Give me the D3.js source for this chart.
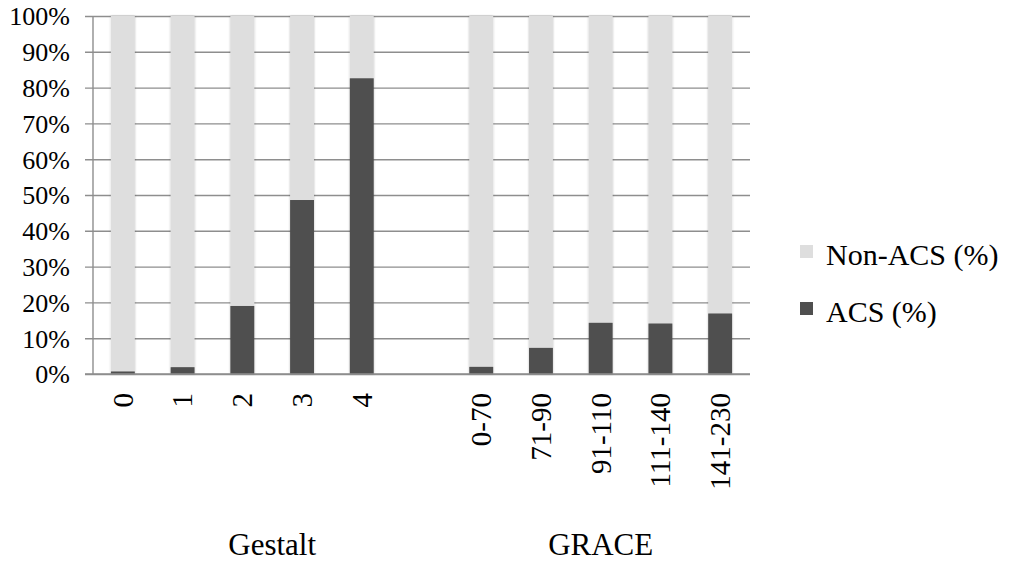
<!DOCTYPE html>
<html>
<head>
<meta charset="utf-8">
<script src="https://cdn.jsdelivr.net/npm/d3@7"></script>
<style>
  html, body { margin: 0; padding: 0; background: #fff; }
  svg { display: block; }
</style>
</head>
<body>
<svg id="chart" width="1011" height="561"></svg>
<script>
// Category slots along the x axis (the empty slot separates the two scores)
const categories = ["0", "1", "2", "3", "4", "", "0-70", "71-90", "91-110", "111-140", "141-230"];
// Share of ACS patients per category (%); null for the separator slot
const acsValues = [0.7, 1.9, 19.0, 48.6, 82.6, null, 2.0, 7.3, 14.3, 14.1, 16.9];
// Group labels and how many slots each group spans
const groupNames = ["Gestalt", "GRACE"];
const groupSizes = [6, 5];
const seriesNames = ["Non-ACS (%)", "ACS (%)"];
const yTicks = [0, 10, 20, 30, 40, 50, 60, 70, 80, 90, 100];

const colors = { nonAcs: "#dedede", acs: "#4f4f4f", grid: "#8e8e8e", text: "#000" };
const serif = "Liberation Serif";

const svg = d3.select("#chart");
const plot = { left: 93, right: 750, top: 16, bottom: 374 };

const x = d3.scaleBand()
  .domain(d3.range(categories.length))
  .range([plot.left, plot.right])
  .paddingInner(0).paddingOuter(0);

const y = d3.scaleLinear().domain([0, 100]).range([plot.bottom, plot.top]);

const barW = x.bandwidth() * 0.4;

// soft edge around the bars
const defs = svg.append("defs");
const f = defs.append("filter").attr("id", "soft").attr("x", "-20%").attr("y", "-5%").attr("width", "140%").attr("height", "110%");
f.append("feDropShadow").attr("dx", 0).attr("dy", 0).attr("stdDeviation", 1.2)
  .attr("flood-color", "#000").attr("flood-opacity", 0.25);

// horizontal gridlines with outward tick marks
const yAxis = d3.axisLeft(y)
  .tickValues(yTicks)
  .tickSize(-(plot.right - plot.left))
  .tickSizeOuter(0)
  .tickFormat(d => d + "%");

const gy = svg.append("g")
  .attr("transform", `translate(${plot.left},0)`)
  .call(yAxis)
  .attr("font-family", serif)
  .attr("font-size", 26);
gy.select(".domain").remove();
gy.selectAll(".tick line")
  .attr("x1", -8)
  .attr("stroke", colors.grid)
  .attr("stroke-width", 1.4);
gy.selectAll(".tick text")
  .attr("x", -23)
  .attr("dy", "0.34em")
  .attr("fill", colors.text)
  .attr("font-family", serif)
  .attr("font-size", 26);

// vertical axis line
svg.append("line")
  .attr("x1", plot.left).attr("x2", plot.left)
  .attr("y1", y(100)).attr("y2", y(0))
  .attr("stroke", colors.grid).attr("stroke-width", 1.4);

// stacked bars
const rows = categories.map((c, i) => ({ i, acs: acsValues[i] })).filter(d => d.acs !== null);

const bars = svg.append("g").attr("filter", "url(#soft)");
bars.selectAll("rect.non")
  .data(rows)
  .join("rect")
  .attr("class", "non")
  .attr("x", d => x(d.i) + (x.bandwidth() - barW) / 2)
  .attr("width", barW)
  .attr("y", y(100))
  .attr("height", d => y(d.acs) - y(100))
  .attr("fill", colors.nonAcs);
bars.selectAll("rect.acs")
  .data(rows)
  .join("rect")
  .attr("class", "acs")
  .attr("x", d => x(d.i) + (x.bandwidth() - barW) / 2)
  .attr("width", barW)
  .attr("y", d => y(d.acs))
  .attr("height", d => y(0) - y(d.acs))
  .attr("fill", colors.acs);

// baseline
svg.append("line")
  .attr("x1", plot.left - 8).attr("x2", plot.right)
  .attr("y1", y(0)).attr("y2", y(0))
  .attr("stroke", colors.grid).attr("stroke-width", 1.4);

// rotated category labels
svg.append("g").selectAll("text")
  .data(categories.map((c, i) => ({ c, i })).filter(d => d.c !== ""))
  .join("text")
  .attr("transform", d => `translate(${x(d.i) + x.bandwidth() / 2},${plot.bottom + 19}) rotate(-90)`)
  .attr("text-anchor", "end")
  .attr("dy", "0.34em")
  .attr("fill", colors.text)
  .attr("font-family", serif)
  .attr("font-size", 29)
  .text(d => d.c);

// group labels centred under their slots
let start = 0;
groupNames.forEach((g, k) => {
  const first = start, last = start + groupSizes[k] - 1;
  const cx = (x(first) + x(last) + x.bandwidth()) / 2;
  svg.append("text")
    .attr("x", cx).attr("y", 555)
    .attr("text-anchor", "middle")
    .attr("fill", colors.text)
    .attr("font-family", serif)
    .attr("font-size", 31)
    .text(g);
  start += groupSizes[k];
});

// legend
const legend = svg.append("g").attr("transform", "translate(800,245)");
[colors.nonAcs, colors.acs].forEach((col, k) => {
  const g = legend.append("g").attr("transform", `translate(0,${k * 57})`);
  g.append("rect").attr("width", 13).attr("height", 13).attr("fill", col);
  g.append("text").attr("x", 26).attr("y", 20)
    .attr("fill", colors.text)
    .attr("font-family", serif)
    .attr("font-size", 30)
    .text(seriesNames[k]);
});
</script>
</body>
</html>
